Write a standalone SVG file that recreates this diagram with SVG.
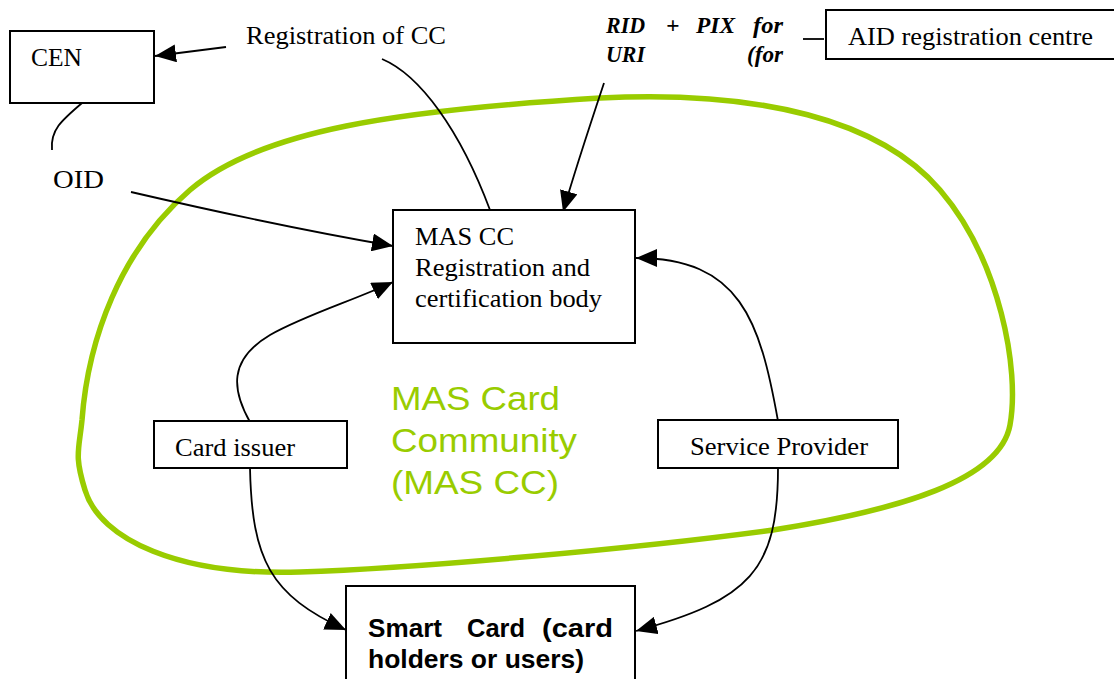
<svg xmlns="http://www.w3.org/2000/svg" width="1114" height="679" viewBox="0 0 1114 679">
  <style>
    .box { fill: #ffffff; stroke: #000000; stroke-width: 2; }
    .serif { font-family: "Liberation Serif", "Times New Roman", serif; font-size: 25.5px; fill: #000000; }
    .rid { font-family: "Liberation Serif", "Times New Roman", serif; font-size: 23.5px; font-weight: bold; font-style: italic; fill: #000000; }
    .sans-bold { font-family: "Liberation Sans", Arial, sans-serif; font-size: 25.5px; font-weight: bold; fill: #000000; }
    .community { font-family: "Liberation Sans", Arial, sans-serif; font-size: 34px; fill: #99cc00; }
    .loop { fill: none; stroke: #99cc00; stroke-width: 5.5; }
    .link { fill: none; stroke: #000000; stroke-width: 1.8; }
  </style>
  <defs>
    <marker id="arrow" viewBox="0 0 21 18" refX="21" refY="9" markerWidth="21" markerHeight="18" markerUnits="userSpaceOnUse" orient="auto">
      <path d="M0,0 L21,9 L0,18 z" fill="#000000"/>
    </marker>
  </defs>

  <rect width="1114" height="679" fill="#ffffff"/>

  <!-- MAS card community boundary -->
  <g id="community">
    <path class="loop" d="M82,420 C88,340 120,250 190,190 C260,130 400,110 600,98 C760,90 880,120 940,190 C1000,260 1020,370 1010,425 C1000,480 900,510 773,530 C640,548 420,568 300,572 C180,576 100,540 85,490 C74,455 79,450 82,420 Z"/>
    <text class="community" x="391" y="410" textLength="169" lengthAdjust="spacingAndGlyphs">MAS Card</text>
    <text class="community" x="391" y="452" textLength="186" lengthAdjust="spacingAndGlyphs">Community</text>
    <text class="community" x="391" y="494" textLength="168" lengthAdjust="spacingAndGlyphs">(MAS CC)</text>
  </g>

  <!-- connectors -->
  <g id="connectors">
    <path class="link" d="M226,47 L155,56" marker-end="url(#arrow)"/>
    <path class="link" d="M82,103 C62,120 50,130 52,150"/>
    <path class="link" d="M131,192 C200,208 300,230 393,246" marker-end="url(#arrow)"/>
    <path class="link" d="M382,59 C420,75 460,130 490,210"/>
    <path class="link" d="M604,83 C590,125 575,170 563,212" marker-end="url(#arrow)"/>
    <path class="link" d="M803,39 L824,39"/>
    <path class="link" d="M250,422 C232,390 228,360 270,335 C305,315 355,300 393,282" marker-end="url(#arrow)"/>
    <path class="link" d="M778,421 C760,320 740,258 636,258" marker-end="url(#arrow)"/>
    <path class="link" d="M250,468 C252,560 270,595 346,630" marker-end="url(#arrow)"/>
    <path class="link" d="M778,468 C778,570 750,600 636,631" marker-end="url(#arrow)"/>
  </g>

  <g id="cen">
    <rect class="box" x="10" y="31" width="144" height="72"/>
    <text class="serif" x="31" y="66" textLength="51" lengthAdjust="spacingAndGlyphs">CEN</text>
  </g>

  <g id="registration-of-cc">
    <text class="serif" x="246" y="44" textLength="200" lengthAdjust="spacingAndGlyphs">Registration of CC</text>
  </g>

  <g id="oid">
    <text class="serif" x="53" y="188" textLength="51" lengthAdjust="spacingAndGlyphs">OID</text>
  </g>

  <g id="rid-pix">
    <text class="rid" x="606" y="33" textLength="39" lengthAdjust="spacingAndGlyphs">RID</text>
    <text class="rid" x="666" y="33">+</text>
    <text class="rid" x="696" y="33" textLength="39" lengthAdjust="spacingAndGlyphs">PIX</text>
    <text class="rid" x="753" y="33" textLength="30" lengthAdjust="spacingAndGlyphs">for</text>
    <text class="rid" x="606" y="62" textLength="39" lengthAdjust="spacingAndGlyphs">URI</text>
    <text class="rid" x="747" y="62" textLength="36" lengthAdjust="spacingAndGlyphs">(for</text>
  </g>

  <g id="aid-centre">
    <rect class="box" x="826" y="10" width="300" height="49"/>
    <text class="serif" x="848" y="45" textLength="245" lengthAdjust="spacingAndGlyphs">AID registration centre</text>
  </g>

  <g id="mas-cc-body">
    <rect class="box" x="393" y="210" width="242" height="133"/>
    <text class="serif" x="415" y="245" textLength="99" lengthAdjust="spacingAndGlyphs">MAS CC</text>
    <text class="serif" x="415" y="276" textLength="175" lengthAdjust="spacingAndGlyphs">Registration and</text>
    <text class="serif" x="415" y="307" textLength="187" lengthAdjust="spacingAndGlyphs">certification body</text>
  </g>

  <g id="card-issuer">
    <rect class="box" x="154" y="421" width="193" height="47"/>
    <text class="serif" x="175" y="456" textLength="120" lengthAdjust="spacingAndGlyphs">Card issuer</text>
  </g>

  <g id="service-provider">
    <rect class="box" x="658" y="420" width="240" height="48"/>
    <text class="serif" x="690" y="455" textLength="178" lengthAdjust="spacingAndGlyphs">Service Provider</text>
  </g>

  <g id="smart-card">
    <rect class="box" x="346" y="586" width="289" height="110"/>
    <text class="sans-bold" x="368" y="637" textLength="74" lengthAdjust="spacingAndGlyphs">Smart</text>
    <text class="sans-bold" x="467" y="637" textLength="58" lengthAdjust="spacingAndGlyphs">Card</text>
    <text class="sans-bold" x="542" y="637" textLength="71" lengthAdjust="spacingAndGlyphs">(card</text>
    <text class="sans-bold" x="368" y="668" textLength="216" lengthAdjust="spacingAndGlyphs">holders or users)</text>
  </g>
</svg>
